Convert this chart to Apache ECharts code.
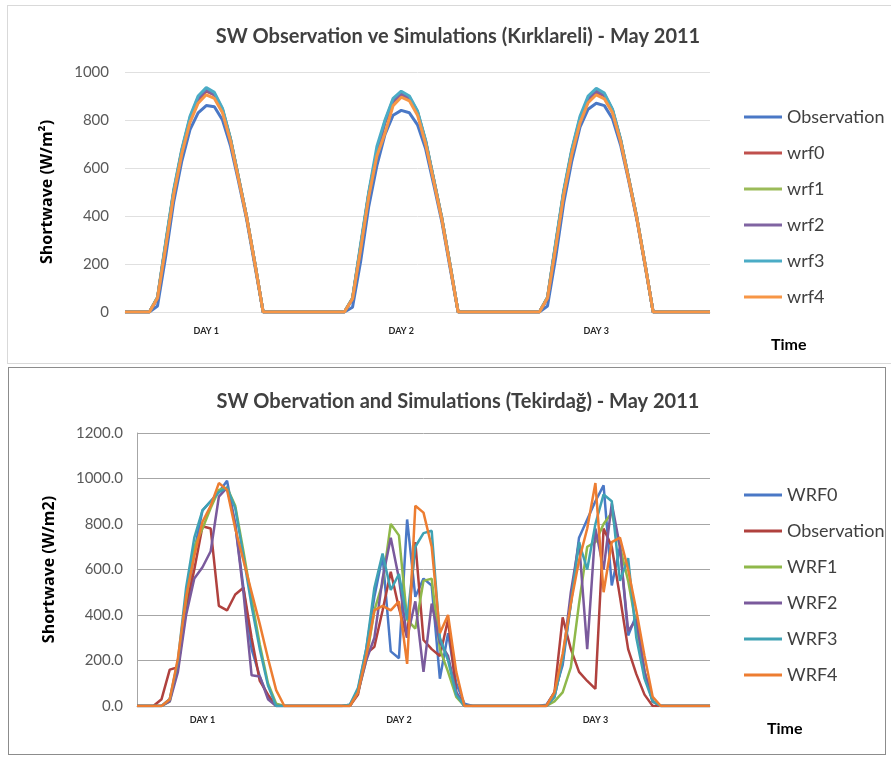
<!DOCTYPE html>
<html>
<head>
<meta charset="utf-8">
<script src="https://cdn.jsdelivr.net/npm/echarts@6/dist/echarts.min.js"></script>
<style>
  body { margin: 0; background: #fff; }
  #page { position: relative; width: 891px; height: 758px; overflow: hidden; background: #fff; }
  .box { position: absolute; box-sizing: border-box; }
  #boxTop { left: 7px; top: 5px; width: 890px; height: 359px; border: 1px solid #d9d9d9; }
  #boxBottom { left: 8px; top: 367px; width: 878px; height: 388px; border: 1px solid #8c8c8c; }
  .chart { position: absolute; left: 0; width: 891px; }
  #chartTop { top: 0; height: 365px; }
  #chartBottom { top: 365px; height: 393px; }
</style>
</head>
<body>
<div id="page">
  <div id="boxTop" class="box"></div>
  <div id="boxBottom" class="box"></div>
  <div id="chartTop" class="chart"></div>
  <div id="chartBottom" class="chart"></div>
</div>
<script>
// --- tick labels / categories ---
const dayLabels = ['DAY 1', 'DAY 2', 'DAY 3']
const topDayIndex = [10, 34, 58]      // hourly points, 73 in the Kırklareli chart
const bottomDayIndex = [8, 32, 56]    // 71 in the Tekirdağ chart
const topPointCount = 73
const bottomPointCount = 71

// --- Kırklareli (top) ---
const topNames = ['Observation', 'wrf0', 'wrf1', 'wrf2', 'wrf3', 'wrf4']
const topObservation = [0,0,0,0,25,230,460,630,760,830,860,855,800,690,540,380,190,0, 0,0,0,0,0,0,0,0,0,0, 20,210,440,610,740,820,840,830,780,680,530,375,185,0, 0,0,0,0,0,0,0,0,0,0, 25,225,455,630,770,845,870,860,805,695,545,385,195, 0,0,0,0,0,0,0,0]
const topWrf0 = [0,0,0,0,58,280,500,670,800,885,920,905,840,715,555,390,200,0, 0,0,0,0,0,0,0,0,0,0, 55,270,490,665,790,875,905,890,830,708,550,388,198,0, 0,0,0,0,0,0,0,0,0,0, 58,278,498,670,800,885,915,900,838,714,554,390,200, 0,0,0,0,0,0,0,0]
const topWrf1 = [0,0,0,0,60,285,505,675,810,895,930,910,845,720,555,390,200,0, 0,0,0,0,0,0,0,0,0,0, 56,275,495,670,795,885,912,895,835,712,552,390,198,0, 0,0,0,0,0,0,0,0,0,0, 60,282,502,675,808,892,925,908,842,718,556,392,200, 0,0,0,0,0,0,0,0]
const topWrf2 = [0,0,0,0,58,280,500,672,805,890,925,905,842,716,553,390,200,0, 0,0,0,0,0,0,0,0,0,0, 55,272,492,668,792,880,910,892,832,710,550,388,196,0, 0,0,0,0,0,0,0,0,0,0, 58,280,500,672,805,890,920,904,840,716,555,391,200, 0,0,0,0,0,0,0,0]
const topWrf3 = [0,0,0,0,62,290,510,680,815,900,935,915,848,720,556,392,202,0, 0,0,0,0,0,0,0,0,0,0, 58,282,500,690,800,890,920,900,838,715,553,390,200,0, 0,0,0,0,0,0,0,0,0,0, 62,288,508,680,815,900,932,912,845,720,556,393,202, 0,0,0,0,0,0,0,0]
const topWrf4 = [0,0,0,0,58,270,490,660,790,870,905,890,830,710,550,390,200,0, 0,0,0,0,0,0,0,0,0,0, 55,260,480,650,745,860,895,880,820,700,545,385,195,0, 0,0,0,0,0,0,0,0,0,0, 58,268,488,658,788,872,905,888,830,710,552,390,200, 0,0,0,0,0,0,0,0]

// --- Tekirdağ (bottom) ---
const bottomNames = ['WRF0', 'Observation', 'WRF1', 'WRF2', 'WRF3', 'WRF4']
const botWrf0 = [0,0,0,0,30,170,420,680,860,900,940,990,800,520,250,130,40,0, 0,0,0,0,0,0,0,0, 5,70,250,480,660,240,210,820,480,560,530,120,320,100,10,0, 0,0,0,0,0,0,0,0, 5,60,180,450,740,820,900,970,530,700,310,400,150,20,0, 0,0,0,0,0,0]
const botObservation = [0,0,0,30,160,170,430,600,790,780,440,420,490,520,300,110,50,0, 0,0,0,0,0,0,0,0, 0,50,230,260,420,590,430,300,720,290,250,220,380,60,0,0, 0,0,0,0,0,0,0,0, 0,60,390,250,150,110,75,780,700,480,250,140,50,0,0, 0,0,0,0,0,0]
const botWrf1 = [0,0,0,0,20,180,470,700,780,870,950,960,880,680,470,270,100,10, 0,0,0,0,0,0,0,0, 0,60,200,420,540,800,750,380,340,550,560,250,150,40,0,0, 0,0,0,0,0,0,0,0, 0,20,60,170,450,700,720,800,850,700,550,350,150,20,0, 0,0,0,0,0,0]
const botWrf2 = [0,0,0,0,20,150,400,560,610,680,920,960,800,500,135,130,30,0, 0,0,0,0,0,0,0,0, 0,60,200,300,560,740,560,300,460,150,450,280,220,60,0,0, 0,0,0,0,0,0,0,0, 0,40,200,500,720,250,780,600,890,700,330,380,150,20,0, 0,0,0,0,0,0]
const botWrf3 = [0,0,0,0,30,200,520,740,860,900,940,960,870,660,440,250,90,0, 0,0,0,0,0,0,0,0, 5,80,250,520,670,510,580,380,700,760,770,300,200,50,0,0, 0,0,0,0,0,0,0,0, 0,40,200,450,720,600,800,930,900,550,650,300,120,20,0, 0,0,0,0,0,0]
const botWrf4 = [0,0,0,0,30,210,480,660,810,880,980,950,780,640,500,360,210,70, 0,0,0,0,0,0,0,0, 0,60,220,420,440,420,460,185,880,850,700,320,400,150,0,0, 0,0,0,0,0,0,0,0, 0,60,230,450,640,780,980,500,720,740,600,420,220,40,0, 0,0,0,0,0,0]

const FONT = 'Lato, "Noto Sans", sans-serif'

// category labels: blank except the DAY marks
const makeCategories = (count, dayIndex) =>
  Array.from({ length: count }, (_, i) => {
    const k = dayIndex.indexOf(i)
    return k >= 0 ? dayLabels[k] : ''
  })

const buildOption = (cfg) => ({
  animation: false,
  title: {
    text: cfg.title, left: 453, top: 22, textAlign: 'center',
    textStyle: { fontFamily: FONT, fontSize: 20, fontWeight: 'bold', color: '#404040' }
  },
  legend: {
    orient: 'vertical', left: 744, top: cfg.legendTop, padding: 0,
    icon: 'rect', itemWidth: 38, itemHeight: 3, itemGap: 18,
    textStyle: { fontFamily: FONT, fontSize: 18, color: '#404040', lineHeight: 16 },
    data: cfg.names.map((n, i) => ({ name: n, itemStyle: { color: cfg.colors[i] } }))
  },
  grid: { left: cfg.left, width: 710 - cfg.left, top: cfg.top, height: cfg.height },
  xAxis: {
    type: 'category', boundaryGap: false, data: cfg.categories,
    axisLine: { show: true, lineStyle: { color: cfg.gridColor } },
    axisTick: { show: false },
    axisLabel: { interval: 0, margin: cfg.dayMargin, fontFamily: FONT, fontSize: 9, fontWeight: 'bold', color: '#262626' }
  },
  yAxis: {
    type: 'value', min: 0, max: cfg.max, interval: 200,
    name: cfg.yName, nameLocation: 'middle', nameRotate: 90, nameGap: cfg.nameGap,
    nameTextStyle: { fontFamily: '"Open Sans", sans-serif', fontSize: 16, fontWeight: 'bold', color: '#000' },
    axisLine: { show: cfg.showAxisLine, lineStyle: { color: cfg.gridColor } },
    axisTick: { show: false },
    axisLabel: { margin: cfg.labelMargin, fontFamily: FONT, fontSize: 15, color: '#595959', formatter: cfg.fmt },
    splitLine: { lineStyle: { color: cfg.gridColor } }
  },
  graphic: [{
    type: 'text', left: cfg.timeX, top: cfg.timeY,
    style: { text: 'Time', fontFamily: FONT, fontSize: 16, fontWeight: 'bold', fill: '#000' }
  }],
  series: cfg.data.map((d, i) => ({
    name: cfg.names[i], type: 'line', data: d, symbol: 'none',
    lineStyle: { width: cfg.lineWidth, color: cfg.colors[i] },
    itemStyle: { color: cfg.colors[i] }
  }))
})

const topChart = echarts.init(document.getElementById('chartTop'))
topChart.setOption(buildOption({
  title: 'SW Observation ve Simulations (Kırklareli) - May 2011',
  names: topNames,
  colors: ['#4a78c6', '#c0504d', '#9bbb59', '#8064a2', '#4bacc6', '#f79646'],
  data: [topObservation, topWrf0, topWrf1, topWrf2, topWrf3, topWrf4],
  categories: makeCategories(topPointCount, topDayIndex),
  legendTop: 108, left: 125, top: 72, height: 240, max: 1000,
  gridColor: '#e0e0e0', showAxisLine: false, dayMargin: 15, labelMargin: 16,
  yName: 'Shortwave (W/m²)', nameGap: 70, fmt: (v) => String(v),
  timeX: 771, timeY: 337, lineWidth: 3
}))

const bottomChart = echarts.init(document.getElementById('chartBottom'))
bottomChart.setOption(buildOption({
  title: 'SW Obervation and Simulations (Tekirdağ) - May 2011',
  names: bottomNames,
  colors: ['#4a78c6', '#b0413e', '#8fb84a', '#7a5a9c', '#3fa2b4', '#ed7d31'],
  data: [botWrf0, botObservation, botWrf1, botWrf2, botWrf3, botWrf4],
  categories: makeCategories(bottomPointCount, bottomDayIndex),
  legendTop: 121, left: 137, top: 68, height: 273, max: 1200,
  gridColor: '#a6a6a6', showAxisLine: true, dayMargin: 10, labelMargin: 14,
  yName: 'Shortwave (W/m2)', nameGap: 80, fmt: (v) => v.toFixed(1),
  timeX: 767, timeY: 356, lineWidth: 2.5
}))
</script>
</body>
</html>
